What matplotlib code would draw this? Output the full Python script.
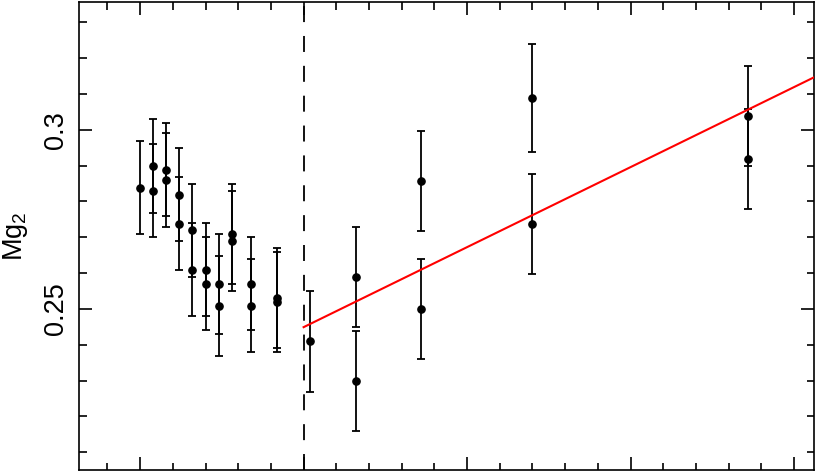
import numpy as np
import matplotlib
matplotlib.use('Agg')
import matplotlib.pyplot as plt
from matplotlib.ticker import MultipleLocator, FixedLocator, NullFormatter

plt.rcParams['font.family'] = ['Liberation Sans', 'DejaVu Sans']
plt.rcParams['mathtext.fontset'] = 'custom'
plt.rcParams['mathtext.rm'] = 'Liberation Sans'
plt.rcParams['mathtext.it'] = 'Liberation Sans'
plt.rcParams['lines.scale_dashes'] = False

# inner points (left of the dashed line)
x_in = [1.00, 1.04, 1.04, 1.08, 1.08, 1.12, 1.12, 1.16, 1.16, 1.20,
        1.20, 1.24, 1.24, 1.28, 1.28, 1.34, 1.34, 1.42, 1.42]
mg2_in = [0.2839, 0.2899, 0.2830, 0.2889, 0.2860, 0.2819, 0.2738, 0.2720, 0.2609, 0.2609,
          0.2570, 0.2570, 0.2509, 0.2709, 0.2690, 0.2570, 0.2509, 0.2530, 0.2519]
err_in = [0.013, 0.013, 0.013, 0.013, 0.013, 0.013, 0.013, 0.013, 0.013, 0.013,
          0.013, 0.014, 0.014, 0.014, 0.014, 0.013, 0.013, 0.014, 0.014]

# outer points (right of the dashed line)
x_out = [1.52, 1.66, 1.66, 1.86, 1.86, 2.20, 2.20, 2.86, 2.86]
mg2_out = [0.2409, 0.2589, 0.2299, 0.2858, 0.2499, 0.3089, 0.2738, 0.3039, 0.2919]
err_out = [0.014, 0.014, 0.014, 0.014, 0.014, 0.015, 0.014, 0.014, 0.014]

# boundary and linear fit of the outer part
x_break = 1.5
fit_y0 = 0.2449   # Mg2 at x_break
fit_slope = 0.0447

xlim = (0.813, 3.062)
ylim = (0.205, 0.3358)

fig = plt.figure(figsize=(8.17, 4.72), dpi=100)
ax = fig.add_axes([0.0967, 0.0042, 0.9000, 0.9922])

for xs, ys, es in [(x_in, mg2_in, err_in), (x_out, mg2_out, err_out)]:
    ax.errorbar(xs, ys, yerr=es, fmt='o', color='black', ms=5.2,
                elinewidth=1.3, capsize=2.6, capthick=1.3, zorder=3)

ax.axvline(x_break, color='black', lw=1.3, linestyle=(0, (11.5, 10)))

xf = np.array([x_break, xlim[1]])
ax.plot(xf, fit_y0 + fit_slope * (xf - x_break), color='red', lw=1.5, zorder=4)

ax.set_xlim(*xlim)
ax.set_ylim(*ylim)

ax.xaxis.set_major_locator(MultipleLocator(0.5))
ax.xaxis.set_minor_locator(MultipleLocator(0.1))
ax.xaxis.set_major_formatter(NullFormatter())
ax.yaxis.set_major_locator(FixedLocator([0.25, 0.3]))
ax.yaxis.set_minor_locator(MultipleLocator(0.01))
ax.set_yticklabels(['0.25', '0.3'], rotation=90, va='center', fontsize=19.5)

ax.tick_params(which='both', direction='in', top=True, right=True, width=1.2)
ax.tick_params(which='major', length=9.5)
ax.tick_params(which='minor', length=5.4)
ax.tick_params(axis='y', which='major', pad=7)
for s in ax.spines.values():
    s.set_linewidth(1.2)

ax.set_ylabel(r'Mg$_2$', fontsize=19.5)
ax.yaxis.set_label_coords(-0.066, 0.5)

fig.savefig('out.png', dpi=100)
